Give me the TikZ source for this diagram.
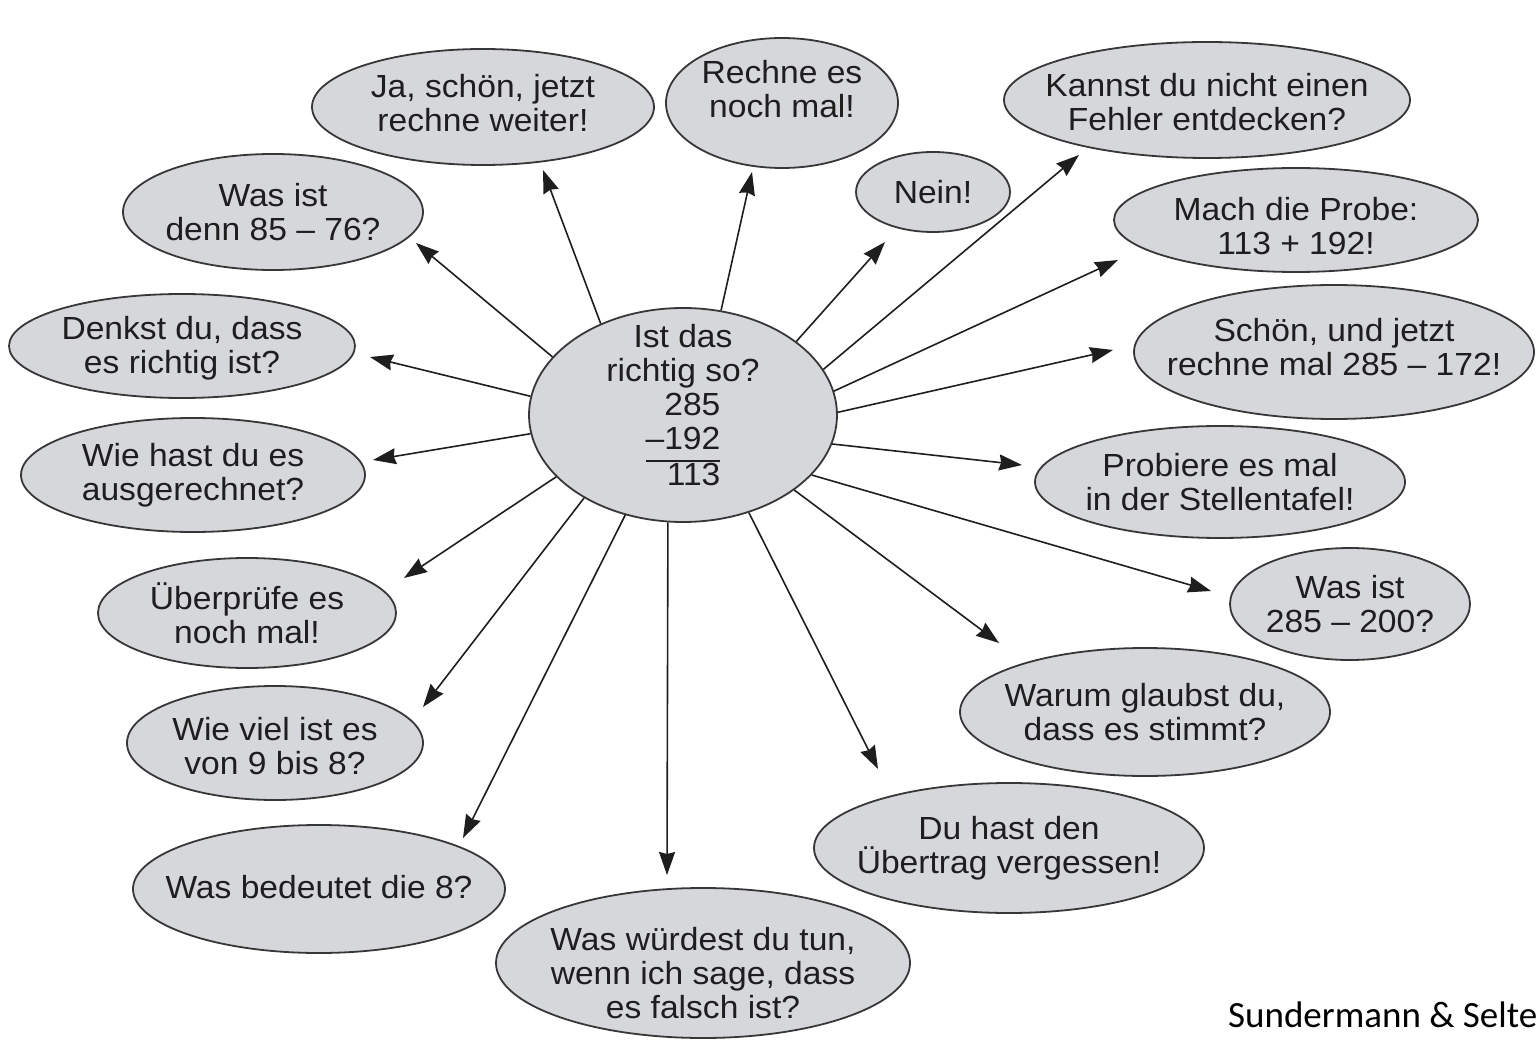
\documentclass[tikz,border=0pt]{standalone}
\usepackage{fontspec}
\setmainfont{Liberation Sans}[FakeStretch=1.05]
\newfontfamily\creditfont{Carlito}
\usepackage{tikz}
\usetikzlibrary{shapes.geometric,arrows.meta}
\definecolor{bubblefill}{RGB}{214,215,219}
\definecolor{bubbleline}{RGB}{55,55,55}
\definecolor{inkcol}{RGB}{30,30,30}
\setlength{\arrayrulewidth}{2pt}
\tikzset{
    %Define standard arrow tip
    >={Stealth[length=23pt,width=16pt,inset=2pt]},
    % Define arrow style
    pil/.style={
           ->,
           line width=1.6pt,
           draw=inkcol,},
    % speech bubble
    bubble/.style 2 args={
           ellipse,
           draw=bubbleline,
           line width=1.8pt,
           fill=bubblefill,
           minimum width=#1pt,
           minimum height=#2pt,
           inner sep=0pt,},
    % bubble text
    txt/.style={
           align=center,
           text=inkcol,
           font=\fontsize{32}{34}\selectfont,},
    credit/.style={
           font=\creditfont\fontsize{37}{40}\selectfont,
           text=black,
           inner sep=0pt,}
}

\begin{document}
\begin{tikzpicture}[x=1pt, y=-1pt]

\useasboundingbox (0,0) rectangle (1537,1040);

% centre bubble
\node [bubble={308}{214}] (C) at (683,415) {};

% answer bubbles, clockwise from the top
\node [bubble={342}{116}] (ja)        at ( 483, 107) {};
\node [bubble={232}{130}] (rechne)    at ( 782, 103) {};
\node [bubble={154}{80}]  (nein)      at ( 933, 192) {};
\node [bubble={406}{116}] (kannst)    at (1207, 100) {};
\node [bubble={364}{104}] (probe)     at (1296, 220) {};
\node [bubble={400}{134}] (schoen)    at (1334, 352) {};
\node [bubble={370}{112}] (probiere)  at (1220, 482) {};
\node [bubble={240}{112}] (wasA)      at (1350, 604) {};
\node [bubble={370}{128}] (warum)     at (1145, 712) {};
\node [bubble={390}{130}] (uebertrag) at (1009, 848) {};
\node [bubble={414}{150}] (falsch)    at ( 703, 963) {};
\node [bubble={372}{128}] (bedeutet)  at ( 319, 889) {};
\node [bubble={296}{114}] (wieviel)   at ( 275, 743) {};
\node [bubble={298}{110}] (pruefe)    at ( 247, 613) {};
\node [bubble={344}{114}] (wiehast)   at ( 193, 475) {};
\node [bubble={346}{104}] (denkst)    at ( 182, 346) {};
\node [bubble={300}{116}] (wasB)      at ( 273, 212) {};

% texts
\path (C)         node [txt, yshift=5pt]   (C-txt)         {Ist das\\richtig so?\\\begin{tabular}[t]{@{}r@{}}285\\–192\\\hline 113\end{tabular}}
      (ja)        node [txt, yshift=4pt]   (ja-txt)        {Ja, schön, jetzt\\rechne weiter!}
      (rechne)    node [txt, yshift=14pt]  (rechne-txt)    {Rechne es\\noch mal!}
      (nein)      node [txt]               (nein-txt)      {Nein!}
      (kannst)    node [txt, yshift=-2pt]  (kannst-txt)    {Kannst du nicht einen\\Fehler entdecken?}
      (probe)     node [txt, yshift=-6pt]  (probe-txt)     {Mach die Probe:\\113 + 192!}
      (schoen)    node [txt, yshift=5pt]   (schoen-txt)    {Schön, und jetzt\\rechne mal 285 – 172!}
      (probiere)  node [txt]               (probiere-txt)  {Probiere es mal\\in der Stellentafel!}
      (wasA)      node [txt]               (wasA-txt)      {Was ist\\285 – 200?}
      (warum)     node [txt]               (warum-txt)     {Warum glaubst du,\\dass es stimmt?}
      (uebertrag) node [txt]               (uebertrag-txt) {Du hast den\\Übertrag vergessen!}
      (falsch)    node [txt, yshift=-10pt] (falsch-txt)    {Was würdest du tun,\\wenn ich sage, dass\\es falsch ist?}
      (bedeutet)  node [txt, yshift=2pt]   (bedeutet-txt)  {Was bedeutet die 8?}
      (wieviel)   node [txt, yshift=-3pt]  (wieviel-txt)   {Wie viel ist es\\von 9 bis 8?}
      (pruefe)    node [txt]               (pruefe-txt)    {Überprüfe es\\noch mal!}
      (wiehast)   node [txt]               (wiehast-txt)   {Wie hast du es\\ausgerechnet?}
      (denkst)    node [txt, yshift=-2pt]  (denkst-txt)    {Denkst du, dass\\es richtig ist?}
      (wasB)      node [txt]               (wasB-txt)      {Was ist\\denn 85 – 76?};

% arrow tips, they stop short of the bubbles
\coordinate (ja-tip)        at ( 543, 170);
\coordinate (rechne-tip)    at ( 752, 172);
\coordinate (nein-tip)      at ( 885, 242);
\coordinate (kannst-tip)    at (1079, 155);
\coordinate (probe-tip)     at (1118, 260);
\coordinate (schoen-tip)    at (1113, 350);
\coordinate (probiere-tip)  at (1022, 465);
\coordinate (wasA-tip)      at (1211, 591);
\coordinate (warum-tip)     at ( 999, 643);
\coordinate (uebertrag-tip) at ( 878, 769);
\coordinate (falsch-tip)    at ( 667, 875);
\coordinate (bedeutet-tip)  at ( 463, 838);
\coordinate (wieviel-tip)   at ( 423, 707);
\coordinate (pruefe-tip)    at ( 404, 578);
\coordinate (wiehast-tip)   at ( 373, 460);
\coordinate (denkst-tip)    at ( 370, 357);
\coordinate (wasB-tip)      at ( 416, 243);

% arrows out of the centre bubble
\draw [pil] (C.132)  -- (ja-tip);
\draw [pil] (C.70)   -- (rechne-tip);
\draw [pil] (C.33)   -- (nein-tip);
\draw [pil] (C.18)   -- (kannst-tip);
\draw [pil] (C.9)    -- (probe-tip);
\draw [pil] (C.1)    -- (schoen-tip);
\draw [pil] (C.-11)  -- (probiere-tip);
\draw [pil] (C.-25)  -- (wasA-tip);
\draw [pil] (C.-34)  -- (warum-tip);
\draw [pil] (C.-56)  -- (uebertrag-tip);
\draw [pil] (C.-98)  -- (falsch-tip);
\draw [pil] (C.-120) -- (bedeutet-tip);
\draw [pil] (C.-140) -- (wieviel-tip);
\draw [pil] (C.-154) -- (pruefe-tip);
\draw [pil] (C.187)  -- (wiehast-tip);
\draw [pil] (C.173)  -- (denkst-tip);
\draw [pil] (C.156)  -- (wasB-tip);

% source
\node [credit, anchor=base west] (quelle) at (1228,1027) {Sundermann \& Selte};

\end{tikzpicture}
\end{document}
